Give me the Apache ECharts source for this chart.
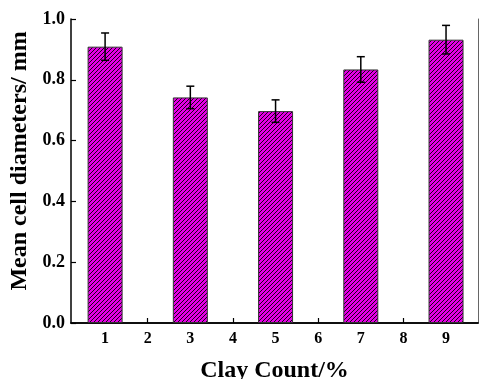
<!DOCTYPE html>
<html><head><meta charset="utf-8">
<script src="https://cdn.jsdelivr.net/npm/echarts@6/dist/echarts.min.js"></script>
<style>html,body{margin:0;padding:0;background:#fff}#c{width:479px;height:379px}</style>
</head><body><div id="c"></div>
<script>
const clayCount = [1, 3, 5, 7, 9];
const meanDiameter = [0.909, 0.742, 0.697, 0.834, 0.932];
const errorValue = [0.045, 0.037, 0.037, 0.042, 0.047];
const xTicks = [1, 2, 3, 4, 5, 6, 7, 8, 9];

// hatch pattern
const pc = document.createElement('canvas');
pc.width = 4; pc.height = 4;
const g = pc.getContext('2d');
g.fillStyle = '#e600e6'; g.fillRect(0, 0, 4, 4);
g.strokeStyle = '#1a001a'; g.lineWidth = 1;
g.beginPath();
g.moveTo(-1, 5); g.lineTo(5, -1);
g.moveTo(-1, 1); g.lineTo(1, -1);
g.moveTo(3, 5); g.lineTo(5, 3);
g.stroke();

const font = '"Liberation Serif", "Times New Roman", serif';
const chart = echarts.init(document.getElementById('c'));
chart.setOption({
  animation: false,
  grid: { left: 71, right: 1, top: 19, bottom: 56, outerBoundsMode: 'none', containLabel: false },
  xAxis: [{
    type: 'value', min: 0.2, max: 9.75,
    name: 'Clay Count/%', nameLocation: 'middle', nameGap: 36,
    nameTextStyle: { fontFamily: font, fontWeight: 'bold', fontSize: 24, color: '#000' },
    axisLine: { lineStyle: { color: '#000', width: 1.5 } },
    axisTick: { inside: true, length: 5, customValues: xTicks, lineStyle: { color: '#000', width: 1.2 } },
    axisLabel: { customValues: xTicks, margin: 8, fontFamily: font, fontWeight: 'bold', fontSize: 16, color: '#000' },
    splitLine: { show: false }
  }, {
    type: 'value', min: 0.2, max: 9.75, position: 'top',
    axisLine: { show: true, lineStyle: { color: '#000', width: 1.5 } },
    axisTick: { show: false }, axisLabel: { show: false }, splitLine: { show: false }
  }],
  yAxis: [{
    type: 'value', min: 0, max: 1.0, interval: 0.2,
    name: 'Mean cell diameters/ mm', nameLocation: 'middle', nameGap: 39,
    nameTextStyle: { fontFamily: font, fontWeight: 'bold', fontSize: 24, color: '#000', padding: [0, 0, 0, 20] },
    axisLine: { show: true, lineStyle: { color: '#000', width: 1.5 } },
    axisTick: { inside: true, length: 5, lineStyle: { color: '#000', width: 1.2 } },
    axisLabel: { margin: 6, fontFamily: font, fontWeight: 'bold', fontSize: 18, color: '#000', formatter: v => v.toFixed(1) },
    splitLine: { show: false }
  }, {
    type: 'value', min: 0, max: 1.0, position: 'right',
    axisLine: { show: true, lineStyle: { color: '#666', width: 1 } },
    axisTick: { show: false }, axisLabel: { show: false }, splitLine: { show: false }
  }],
  series: [{
    type: 'bar',
    data: clayCount.map((x, i) => [x, meanDiameter[i]]),
    barWidth: 35,
    itemStyle: { color: { image: pc, repeat: 'repeat' }, borderColor: '#333', borderWidth: 1 }
  }, {
    type: 'custom',
    data: clayCount.map((x, i) => [x, meanDiameter[i] - errorValue[i], meanDiameter[i] + errorValue[i]]),
    renderItem: function (params, api) {
      const lo = api.coord([api.value(0), api.value(1)]);
      const hi = api.coord([api.value(0), api.value(2)]);
      const w = 4;
      const st = { stroke: '#000', lineWidth: 1.5 };
      return { type: 'group', children: [
        { type: 'line', shape: { x1: hi[0], y1: hi[1], x2: lo[0], y2: lo[1] }, style: st },
        { type: 'line', shape: { x1: hi[0] - w, y1: hi[1], x2: hi[0] + w, y2: hi[1] }, style: st },
        { type: 'line', shape: { x1: lo[0] - w, y1: lo[1], x2: lo[0] + w, y2: lo[1] }, style: st }
      ] };
    },
    z: 10
  }]
});
</script></body></html>
